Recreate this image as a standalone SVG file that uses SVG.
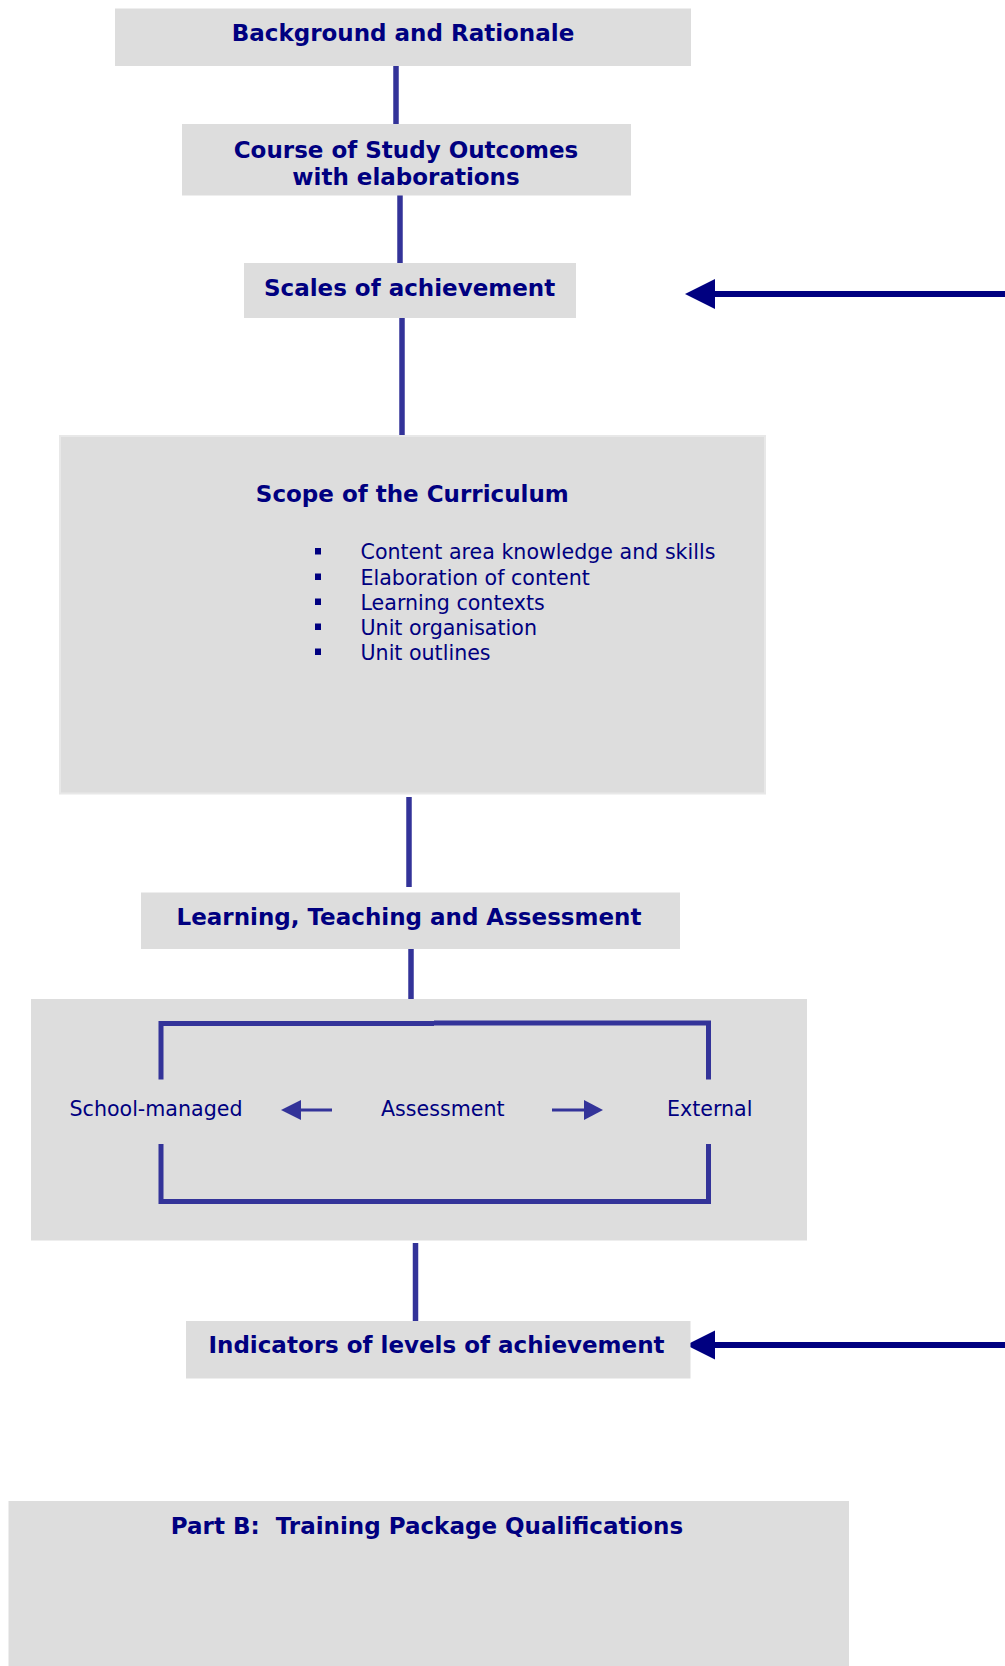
<svg xmlns="http://www.w3.org/2000/svg" width="1005" height="1666" viewBox="0 0 1005 1666">
  <style>
    .box { fill: #dddddd; }
    .title { font-family: "DejaVu Sans", Verdana, sans-serif; font-weight: bold; font-size: 23px; fill: #000080; text-anchor: middle; }
    .body { font-family: "DejaVu Sans", Verdana, sans-serif; font-size: 20.6px; fill: #000080; }
    .link { stroke: #333399; stroke-width: 5.5; fill: none; }
    .bracket { stroke: #333399; stroke-width: 5; fill: none; }
    .thin { stroke: #333399; stroke-width: 3; fill: none; }
    .feed { stroke: #000080; stroke-width: 6; fill: none; }
  </style>

  <rect width="1005" height="1666" fill="#ffffff"/>

  <!-- vertical connectors between stages, and side feed arrows -->
  <g id="connectors">
    <line class="link" x1="396" y1="66" x2="396" y2="124"/>
    <line class="link" x1="400" y1="195" x2="400" y2="263"/>
    <line class="link" x1="402" y1="318" x2="402" y2="436"/>
    <line class="link" x1="409" y1="797" x2="409" y2="887"/>
    <line class="link" x1="411" y1="949" x2="411" y2="999"/>
    <line class="link" x1="415.5" y1="1243" x2="415.5" y2="1321"/>

    <line class="feed" x1="1005" y1="294" x2="712" y2="294"/>
    <polygon points="685,294 715,279 715,309" fill="#000080"/>
    <line class="feed" x1="1005" y1="1345" x2="712" y2="1345"/>
    <polygon points="686,1345 715,1330.5 715,1359.5" fill="#000080"/>
  </g>

  <g id="background">
    <rect class="box" x="115" y="8.5" width="576" height="57.5"/>
    <text class="title" x="403" y="40.7">Background and Rationale</text>
  </g>

  <g id="outcomes">
    <rect class="box" x="182" y="124" width="449" height="71.5"/>
    <text class="title" x="406" y="157.5">Course of Study Outcomes</text>
    <text class="title" x="406" y="185">with elaborations</text>
  </g>

  <g id="scales">
    <rect class="box" x="244" y="263" width="332" height="55"/>
    <text class="title" x="409.6" y="296">Scales of achievement</text>
  </g>

  <g id="scope">
    <rect class="box" x="60" y="436" width="705" height="357.5" stroke="#e8e8e8" stroke-width="2"/>
    <text class="title" x="412.3" y="501.7">Scope of the Curriculum</text>
    <g fill="#000080">
      <rect x="315" y="548" width="6" height="6.5"/>
      <rect x="315" y="573.5" width="6" height="6.5"/>
      <rect x="315" y="598.5" width="6" height="6.5"/>
      <rect x="315" y="623.5" width="6" height="6.5"/>
      <rect x="315" y="648.5" width="6" height="6.5"/>
    </g>
    <text class="body" x="360.5" y="559.3">Content area knowledge and skills</text>
    <text class="body" x="360.5" y="585">Elaboration of content</text>
    <text class="body" x="360.5" y="610">Learning contexts</text>
    <text class="body" x="360.5" y="635">Unit organisation</text>
    <text class="body" x="360.5" y="660">Unit outlines</text>
  </g>

  <g id="learning">
    <rect class="box" x="141" y="892.5" width="539" height="56.5"/>
    <text class="title" x="409" y="925">Learning, Teaching and Assessment</text>
  </g>

  <g id="assessment">
    <rect class="box" x="31" y="999" width="776" height="241.5"/>
    <path class="bracket" d="M161 1079.5 V1023.5 H434"/>
    <path class="bracket" d="M434 1023 H708.5 V1079.5"/>
    <path class="bracket" d="M161 1144 V1201.5 H434"/>
    <path class="bracket" d="M434 1201.5 H708.5 V1144"/>
    <text class="body" x="69.5" y="1116">School-managed</text>
    <text class="body" x="381" y="1116">Assessment</text>
    <text class="body" x="667" y="1116">External</text>
    <line class="thin" x1="332" y1="1110" x2="298" y2="1110"/>
    <polygon points="281,1110 301,1100 301,1120" fill="#333399"/>
    <line class="thin" x1="552" y1="1110" x2="586" y2="1110"/>
    <polygon points="603,1110 584,1100 584,1120" fill="#333399"/>
  </g>

  <g id="indicators">
    <rect class="box" x="186" y="1321" width="504.5" height="57.5"/>
    <text class="title" x="436.5" y="1353.3">Indicators of levels of achievement</text>
  </g>

  <g id="part-b">
    <rect class="box" x="8.5" y="1501" width="840.5" height="165"/>
    <text class="title" x="427" y="1534.3" xml:space="preserve">Part B:  Training Package Qualifications</text>
  </g>
</svg>
